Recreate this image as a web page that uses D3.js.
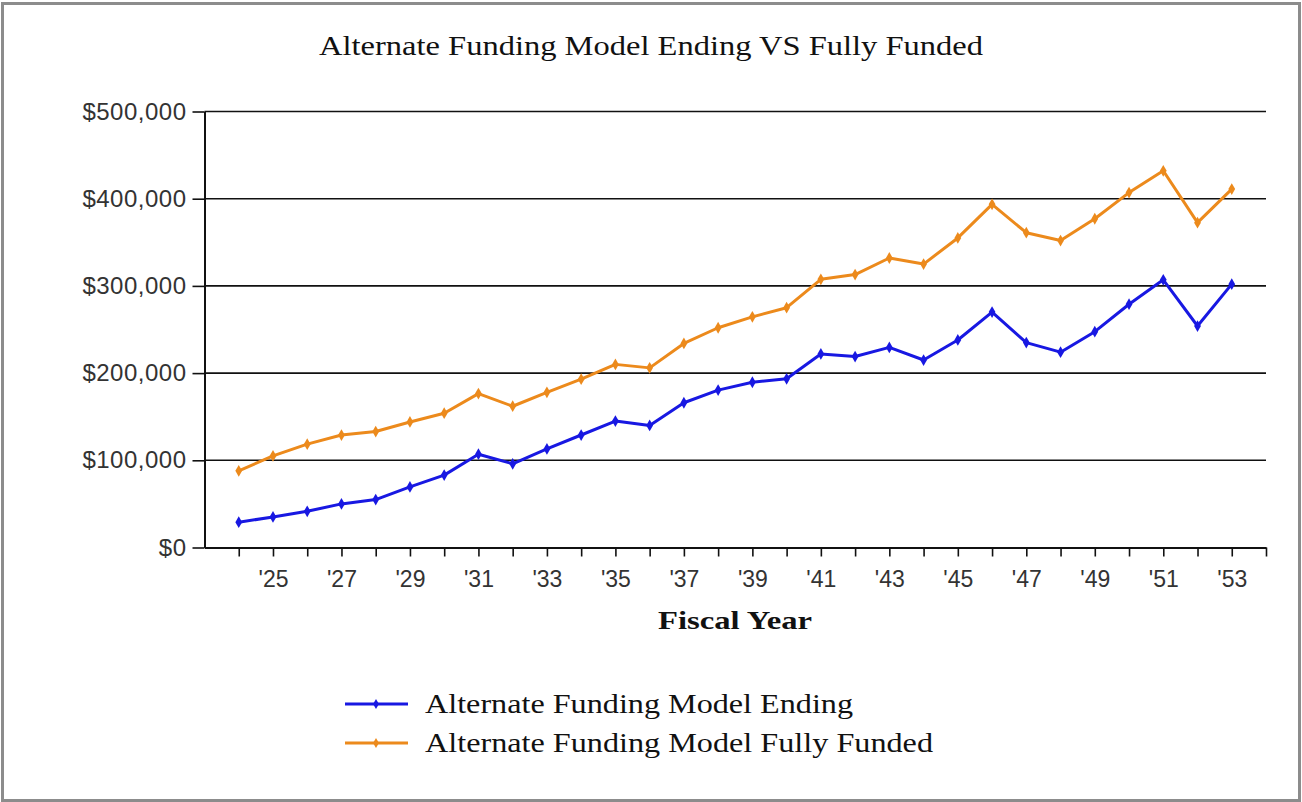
<!DOCTYPE html>
<html>
<head>
<meta charset="utf-8">
<script src="https://cdnjs.cloudflare.com/ajax/libs/d3/7.8.5/d3.min.js"></script>
<style>
  body { margin: 0; background: #fff; }
  svg { display: block; }
</style>
</head>
<body>
<svg></svg>
<script>
var years = d3.range(2024, 2054);
var endingValues = [
  29000, 35000, 41500, 50000, 55000, 69500, 83000, 107000, 96000, 113000,
  129000, 145000, 140000, 166000, 180500, 189500, 193500, 222000, 219000, 229500,
  215000, 238000, 270000, 235000, 224000, 247500, 279000, 307000, 254000, 302000
];
var fullyFundedValues = [
  88000, 105000, 118500, 129000, 133000, 144000, 154000, 176500, 162000, 178000,
  193000, 210000, 206000, 234000, 252000, 264500, 275000, 307500, 313000, 332000,
  325000, 355000, 393500, 361000, 352000, 377000, 407000, 432000, 372500, 411000
];
var yTicks = [0, 100000, 200000, 300000, 400000, 500000];
var seriesNames = ["Alternate Funding Model Ending", "Alternate Funding Model Fully Funded"];
var seriesColors = ["#1818e2", "#ec8a1c"];

var drawChart = function() {
  var width = 1302, height = 802;
  var left = 204.5, right = 1266, top = 111.5, bottom = 547.5;

  var svg = d3.select("svg")
      .attr("width", width)
      .attr("height", height);

  // grey frame round the whole chart
  svg.append("rect")
    .attr("x", 2.5).attr("y", 3.5)
    .attr("width", width - 5).attr("height", height - 5)
    .attr("fill", "#fff")
    .attr("stroke", "#8c8c8c")
    .attr("stroke-width", 3);

  var x = d3.scaleLinear()
      .domain([2023, 2054])
      .range([left, right]);

  var y = d3.scaleLinear()
      .domain([0, 500000])
      .range([bottom, top]);

  // gridlines
  svg.append("g").selectAll("line")
    .data(yTicks.slice(1)).enter()
    .append("line")
    .attr("x1", left).attr("x2", right)
    .attr("y1", function(d){ return y(d); })
    .attr("y2", function(d){ return y(d); })
    .attr("stroke", "#111")
    .attr("stroke-width", 1.6);

  var leftAxis = d3.axisLeft(y)
      .tickValues(yTicks)
      .tickSize(12)
      .tickSizeOuter(0)
      .tickPadding(6)
      .tickFormat(function(d){ return "$" + d3.format(",")(d); });

  var yAxisG = svg.append("g")
      .attr("transform", "translate(" + left + ",0)")
      .call(leftAxis);
  yAxisG.select(".domain").attr("stroke", "#111").attr("stroke-width", 2);
  yAxisG.selectAll(".tick line").attr("stroke", "#111").attr("stroke-width", 1.6);
  yAxisG.selectAll("text")
    .attr("fill", "#333")
    .style("font-family", "'Liberation Sans', Arial, sans-serif")
    .style("font-size", "24px")
    .style("letter-spacing", "0.5px");

  var bottomAxis = d3.axisBottom(x)
      .tickValues(d3.range(2024, 2055))
      .tickSize(9)
      .tickSizeOuter(0)
      .tickPadding(14)
      .tickFormat(function(d){
        return (d % 2 === 1 && d < 2054) ? "'" + String(d).slice(2) : "";
      });

  var xAxisG = svg.append("g")
      .attr("transform", "translate(0," + bottom + ")")
      .call(bottomAxis);
  xAxisG.select(".domain").attr("stroke", "#111").attr("stroke-width", 2);
  xAxisG.selectAll(".tick line").attr("stroke", "#111").attr("stroke-width", 1.6);
  xAxisG.selectAll("text")
    .attr("fill", "#333")
    .style("font-family", "'Liberation Sans', Arial, sans-serif")
    .style("font-size", "23px");

  var allSeries = [endingValues, fullyFundedValues];
  var line = d3.line()
      .x(function(d, i){ return x(years[i]); })
      .y(function(d){ return y(d); });

  allSeries.forEach(function(values, s) {
    svg.append("path")
      .datum(values)
      .attr("d", line)
      .attr("fill", "none")
      .attr("stroke", seriesColors[s])
      .attr("stroke-width", 3)
      .attr("stroke-linejoin", "round");

    svg.append("g").selectAll("path")
      .data(values).enter()
      .append("path")
      .attr("d", d3.symbol(d3.symbolDiamond, 40))
      .attr("transform", function(d, i){
        return "translate(" + x(years[i]) + "," + y(d) + ")";
      })
      .attr("fill", seriesColors[s]);
  });

  svg.append("text")  // title
    .attr("x", 651)
    .attr("y", 55)
    .attr("text-anchor", "middle")
    .attr("textLength", 664)
    .attr("lengthAdjust", "spacingAndGlyphs")
    .style("font-family", "'Liberation Serif', 'Times New Roman', serif")
    .style("font-size", "27px")
    .attr("fill", "#111")
    .text("Alternate Funding Model Ending VS Fully Funded");

  svg.append("text")
    .attr("x", 735)
    .attr("y", 629)
    .attr("text-anchor", "middle")
    .attr("textLength", 154)
    .attr("lengthAdjust", "spacingAndGlyphs")
    .style("font-family", "'Liberation Serif', 'Times New Roman', serif")
    .style("font-size", "26px")
    .style("font-weight", "bold")
    .attr("fill", "#111")
    .text("Fiscal Year");

  // legend
  var legendLengths = [428, 508];
  var legend = svg.append("g").selectAll("g")
    .data(seriesNames).enter()
    .append("g")
    .attr("transform", function(d, i){ return "translate(345," + (704 + i * 39) + ")"; });

  legend.append("line")
    .attr("x1", 0).attr("x2", 63)
    .attr("stroke", function(d, i){ return seriesColors[i]; })
    .attr("stroke-width", 3);

  legend.append("path")
    .attr("d", d3.symbol(d3.symbolDiamond, 30))
    .attr("transform", "translate(31,0)")
    .attr("fill", function(d, i){ return seriesColors[i]; });

  legend.append("text")
    .attr("x", 80)
    .attr("y", 9)
    .attr("textLength", function(d, i){ return legendLengths[i]; })
    .attr("lengthAdjust", "spacingAndGlyphs")
    .style("font-family", "'Liberation Serif', 'Times New Roman', serif")
    .style("font-size", "27px")
    .attr("fill", "#111")
    .text(function(d){ return d; });
};

drawChart();
</script>
</body>
</html>
